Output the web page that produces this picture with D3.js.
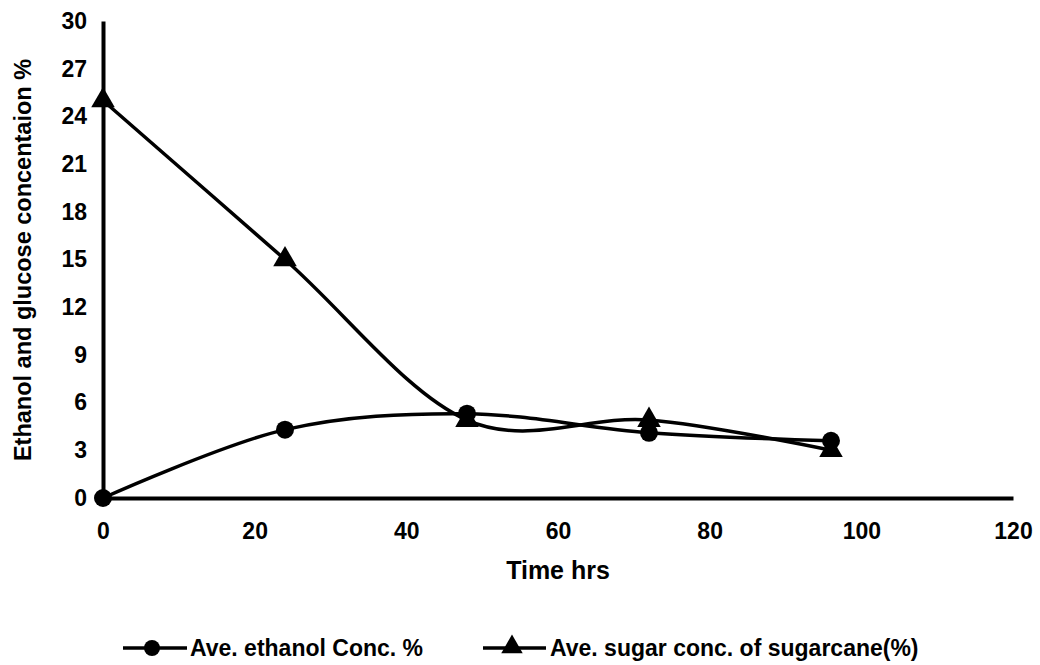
<!DOCTYPE html>
<html><head><meta charset="utf-8">
<script src="https://cdn.jsdelivr.net/npm/d3@7"></script>
<style>body{margin:0;background:#fff}svg{display:block}text{font-family:"Liberation Sans",Arial,sans-serif;font-weight:bold;fill:#000}</style>
</head><body>
<svg id="c" width="1040" height="665"></svg>
<script>
const times = [0, 24, 48, 72, 96];
const ethanol = [0, 4.3, 5.3, 4.1, 3.6];
const sugar = [25, 15, 4.9, 4.9, 3];
const xTicks = [0, 20, 40, 60, 80, 100, 120];
const yTicks = [0, 3, 6, 9, 12, 15, 18, 21, 24, 27, 30];
const seriesNames = ["Ave. ethanol Conc. %", "Ave. sugar conc. of sugarcane(%)"];

const svg = d3.select("#c");
const x = d3.scaleLinear().domain([0, 120]).range([103, 1013]);
const y = d3.scaleLinear().domain([0, 30]).range([498, 21]);
const ff = '"Liberation Sans",Arial,sans-serif';

// axes
const xa = svg.append("g").attr("transform", `translate(0,${y(0)})`)
  .call(d3.axisBottom(x).tickValues(xTicks).tickSize(0).tickPadding(25));
xa.select(".domain").attr("stroke", "#000").attr("stroke-width", 4);
xa.selectAll("text").attr("font-size", 23).style("font-family", ff).style("font-weight", "bold");

const ya = svg.append("g").attr("transform", `translate(${x(0)},0)`)
  .call(d3.axisLeft(y).tickValues(yTicks).tickSize(0).tickPadding(16));
ya.select(".domain").attr("stroke", "#000").attr("stroke-width", 4);
ya.selectAll("text").attr("font-size", 23).style("font-family", ff).style("font-weight", "bold");

const curve = d3.curveCatmullRom.alpha(0);
const line = d3.line().x(d => x(d[0])).y(d => y(d[1])).curve(curve);
const eData = times.map((t, i) => [t, ethanol[i]]);
const sData = times.map((t, i) => [t, sugar[i]]);

svg.append("path").attr("d", line(eData)).attr("fill", "none").attr("stroke", "#000").attr("stroke-width", 3.5);
svg.append("path").attr("d", line(sData)).attr("fill", "none").attr("stroke", "#000").attr("stroke-width", 3.5);

const tri = d3.symbol().type(d3.symbolTriangle).size(240);
svg.selectAll(".tri").data(sData).enter().append("path")
  .attr("d", tri).attr("transform", d => `translate(${x(d[0])},${y(d[1])})`).attr("fill", "#000");
svg.selectAll(".dot").data(eData).enter().append("circle")
  .attr("cx", d => x(d[0])).attr("cy", d => y(d[1])).attr("r", 9).attr("fill", "#000");

// axis titles
svg.append("text").attr("x", 558).attr("y", 579).attr("text-anchor", "middle").attr("font-size", 25).text("Time hrs");
svg.append("text").attr("transform", "translate(31,260) rotate(-90)").attr("text-anchor", "middle").attr("font-size", 23.5).text("Ethanol and glucose concentaion %");

// legend
const lg = svg.append("g");
lg.append("line").attr("x1", 123).attr("x2", 187).attr("y1", 648).attr("y2", 648).attr("stroke", "#000").attr("stroke-width", 3.5);
lg.append("circle").attr("cx", 152).attr("cy", 648).attr("r", 8).attr("fill", "#000");
lg.append("text").attr("x", 190).attr("y", 656).attr("font-size", 23).text(seriesNames[0]);
lg.append("line").attr("x1", 483).attr("x2", 546).attr("y1", 648).attr("y2", 648).attr("stroke", "#000").attr("stroke-width", 3.5);
lg.append("path").attr("d", d3.symbol().type(d3.symbolTriangle).size(200)).attr("transform", "translate(512,647)").attr("fill", "#000");
lg.append("text").attr("x", 550).attr("y", 656).attr("font-size", 23).text(seriesNames[1]);
</script>
</body></html>
